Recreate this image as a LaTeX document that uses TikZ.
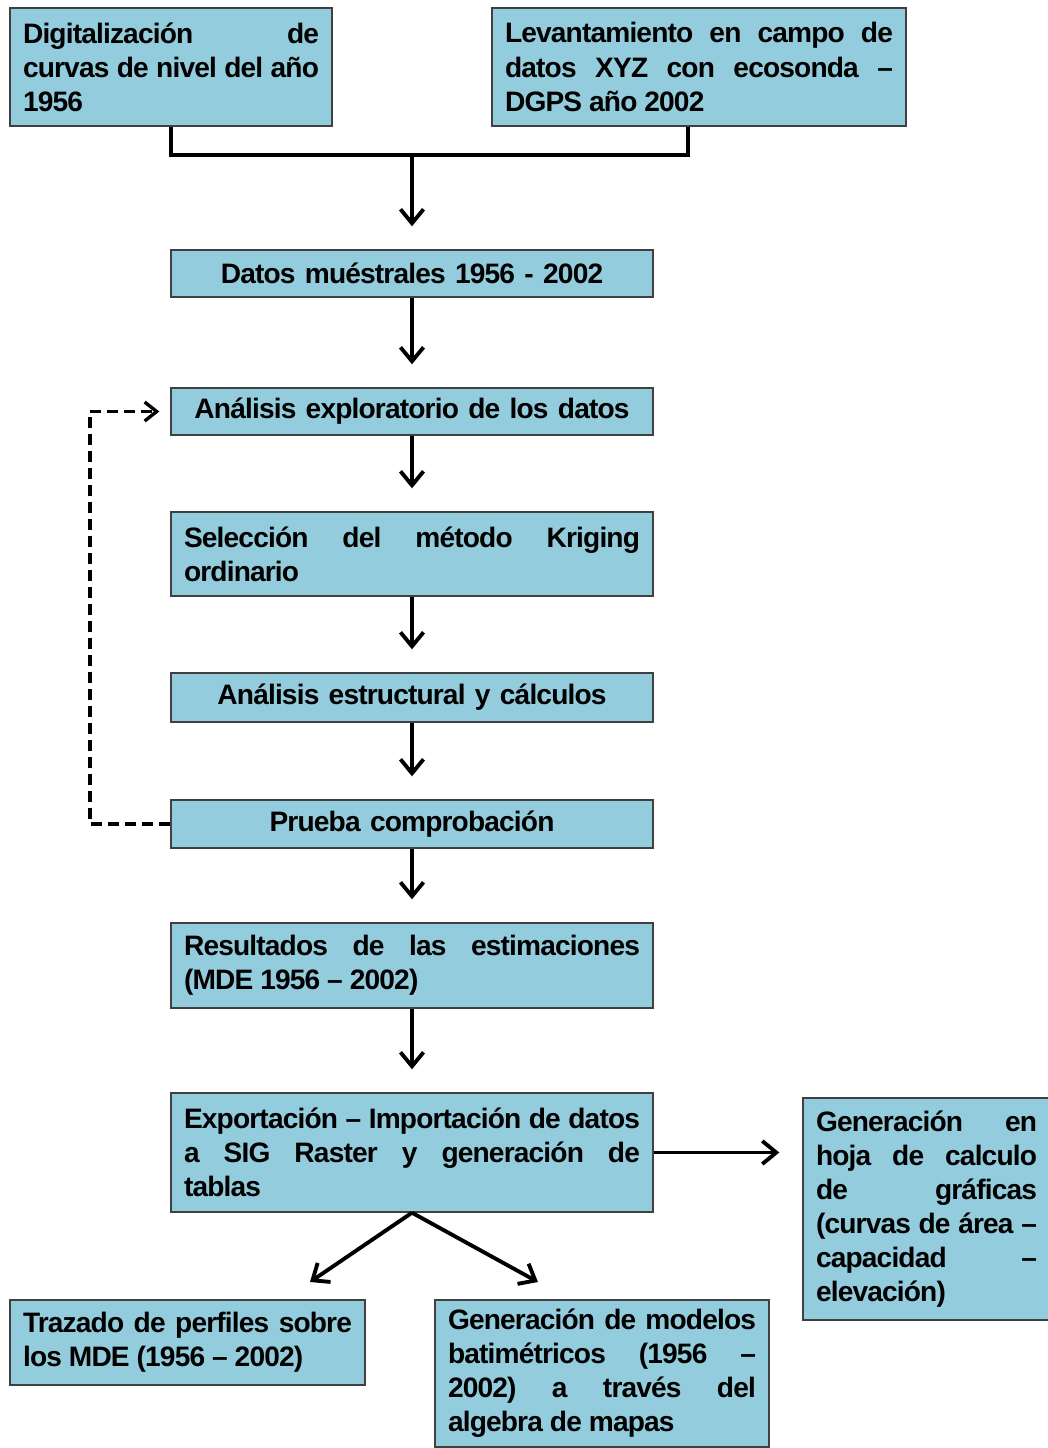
\documentclass[tikz,border=0pt]{standalone}
\usepackage{fontspec}
\setmainfont{Liberation Sans}[LetterSpace=-3]
\usetikzlibrary{arrows.meta}
\hyphenpenalty=10000
\definecolor{celeste}{HTML}{93CDDD}
\tikzset{
  caja/.style={draw=black!75, line width=0.8pt, fill=celeste, inner xsep=0.26cm, inner ysep=0pt,
    align=justify, font=\fontsize{16}{19.4}\selectfont\bfseries},
  flecha/.style={line width=2.2pt, -{Straight Barb[length=2.8mm,width=4.6mm]}, shorten >=0.46cm},
  retorno/.style={line width=1.9pt, dash pattern=on 0.22cm off 0.12cm, -{Straight Barb[length=2.4mm,width=3.8mm]}},
}
\begin{document}
\begin{tikzpicture}[x=0.02cm, y=-0.02cm]
  \useasboundingbox (0,0) rectangle (1048,1448);
  % cajas superiores
  \node[caja, minimum width=6.44cm, minimum height=2.36cm, text width=5.92cm] (digital) at (171,67)
    {Digitalización de\linebreak curvas de nivel del año\linebreak 1956};
  \node[caja, minimum width=8.28cm, minimum height=2.36cm, text width=7.76cm] (levant) at (699,67)
    {Levantamiento en campo de\linebreak datos XYZ con ecosonda –\linebreak DGPS año 2002};
  % columna central
  \node[caja, minimum width=9.64cm, minimum height=0.94cm, text width=9.12cm, align=center] (datos) at (412,273.5)
    {Datos muéstrales 1956 - 2002};
  \node[caja, minimum width=9.64cm, minimum height=0.94cm, text width=9.12cm, align=center] (explor) at (412,411.5)
    {Análisis exploratorio de los datos};
  \node[caja, minimum width=9.64cm, minimum height=1.68cm, text width=9.12cm] (metodo) at (412,554)
    {Selección del método Kriging\linebreak ordinario};
  \node[caja, minimum width=9.64cm, minimum height=0.98cm, text width=9.12cm, align=center] (estruct) at (412,697.5)
    {Análisis estructural y cálculos};
  \node[caja, minimum width=9.64cm, minimum height=0.96cm, text width=9.12cm, align=center] (prueba) at (412,824)
    {Prueba comprobación};
  \node[caja, minimum width=9.64cm, minimum height=1.7cm, text width=9.12cm] (result) at (412,965.5)
    {Resultados de las estimaciones\linebreak (MDE 1956 – 2002)};
  \node[caja, minimum width=9.64cm, minimum height=2.38cm, text width=9.12cm] (export) at (412,1152.5)
    {Exportación – Importación de datos\linebreak a SIG Raster y generación de\linebreak tablas};
  % cajas inferiores
  \node[caja, minimum width=4.94cm, minimum height=4.44cm, text width=4.42cm] (hoja) at (926.5,1209)
    {Generación en\linebreak hoja de calculo\linebreak de gráficas\linebreak (curvas de área –\linebreak capacidad –\linebreak elevación)};
  \node[caja, minimum width=7.1cm, minimum height=1.7cm, text width=6.58cm] (perfil) at (187.5,1342.5)
    {Trazado de perfiles sobre\linebreak los MDE (1956 – 2002)};
  \node[caja, minimum width=6.68cm, minimum height=2.94cm, text width=6.16cm] (modelo) at (602,1373.5)
    {Generación de modelos\linebreak batimétricos (1956 –\linebreak 2002) a través del\linebreak algebra de mapas};
  % union de las dos cajas superiores
  \coordinate (union) at (412,155);
  \draw[line width=2.2pt] (digital.south) |- (union) -| ([xshift=-0.22cm]levant.south);
  \draw[flecha] (union) -- (datos.north);
  % flechas verticales
  \draw[flecha] (datos.south) -- (explor.north);
  \draw[flecha] (explor.south) -- (metodo.north);
  \draw[flecha] (metodo.south) -- (estruct.north);
  \draw[flecha] (estruct.south) -- (prueba.north);
  \draw[flecha] (prueba.south) -- (result.north);
  \draw[flecha] (result.south) -- (export.north);
  % retorno discontinuo
  \coordinate (esquina) at (90,824);
  \draw[retorno] (prueba.west) -- (esquina) |- ([xshift=-0.22cm]explor.west);
  % salidas
  \draw[flecha] (export.east) -- (export.east -| hoja.west);
  \coordinate (punta1) at (310,1282);
  \coordinate (punta2) at (538,1282);
  \draw[flecha, shorten >=0pt] (export.south) -- (punta1);
  \draw[flecha, shorten >=0pt] (export.south) -- (punta2);
\end{tikzpicture}
\end{document}
